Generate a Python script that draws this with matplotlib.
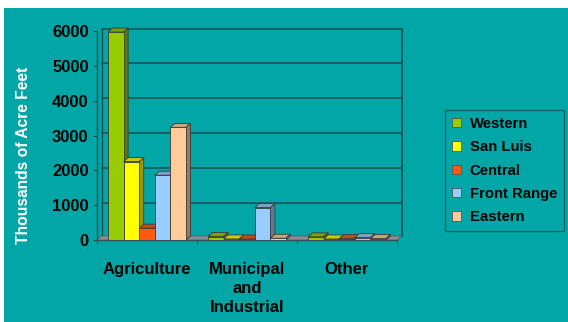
import numpy as np
import matplotlib.pyplot as plt
from matplotlib.patches import Polygon, Rectangle
from matplotlib.colors import to_rgb

plt.rcParams['font.family'] = ['Liberation Sans', 'DejaVu Sans']

categories = ['Agriculture', 'Municipal\nand\nIndustrial', 'Other']
regions = ['Western', 'San Luis', 'Central', 'Front Range', 'Eastern']
western = [5970, 100, 90]
san_luis = [2250, 30, 30]
central = [340, 30, 40]
front_range = [1860, 930, 70]
eastern = [3230, 50, 40]
yticks = [0, 1000, 2000, 3000, 4000, 5000, 6000]

series = [western, san_luis, central, front_range, eastern]
colors = ['#99cc00', '#ffff00', '#ff5a10', '#99ccff', '#ffcc99']
teal = '#03a6a6'
line_col = '#1d4f52'


def shade(c, f):
    r, g, b = to_rgb(c)
    return (r * f, g * f, b * f)


fig = plt.figure(figsize=(5.68, 3.22), dpi=100, facecolor='white')
fig.patches.append(Rectangle((4 / 568, 0), 1, 1 - 8 / 322, transform=fig.transFigure,
                             facecolor=teal, edgecolor='none', zorder=-10))

ax = fig.add_axes([97 / 568, 82 / 322, 300 / 568, 209 / 322])
ax.patch.set_visible(False)
ax.set_xlim(-0.5, 2.5)
ax.set_ylim(0, 6000)
for s in ax.spines.values():
    s.set_visible(False)

dx, dy = 0.045, 115   # 3d depth in data units
x = np.arange(len(categories))
w = 0.156

# back wall + gridlines
for yv in yticks[1:]:
    ax.plot([-0.5 + dx, 2.5 + dx], [yv + dy * 0.6, yv + dy * 0.6], color=line_col, lw=1.1, clip_on=False, zorder=1)
ax.plot([-0.5 + dx, -0.5 + dx], [dy, 6000 + dy * 0.6], color=line_col, lw=1, clip_on=False, zorder=1)
ax.plot([2.5 + dx, 2.5 + dx], [dy, 6000 + dy * 0.6], color=line_col, lw=1.2, clip_on=False, zorder=1)
ax.plot([-0.5, -0.5], [0, 6000], color=line_col, lw=1, clip_on=False, zorder=1)
ax.plot([-0.5, 2.5], [0, 0], color=line_col, lw=1, clip_on=False, zorder=1)

# floor
ax.add_patch(Polygon([(-0.5, 0), (2.5, 0), (2.5 + dx, dy), (-0.5 + dx, dy)], closed=True,
                     facecolor='#8c8c96', edgecolor='#555555', lw=0.5, zorder=2, clip_on=False))

handles = []
for i, (vals, c) in enumerate(zip(series, colors)):
    xs = x + (i - 2) * w
    bars = ax.bar(xs, vals, w, color=c, edgecolor='#3a3a3a', lw=0.6, label=regions[i])
    handles.append(bars)
    for j, r in enumerate(bars):
        z = 3 + j * 10 + i
        r.set_zorder(z + 0.5)
        x0, h = r.get_x(), r.get_height()
        ax.add_patch(Polygon([(x0, h), (x0 + dx, h + dy), (x0 + w + dx, h + dy), (x0 + w, h)],
                             closed=True, facecolor=shade(c, 0.8), edgecolor='#3a3a3a', lw=0.6,
                             zorder=z, clip_on=False))
        ax.add_patch(Polygon([(x0 + w, 0), (x0 + w + dx, dy), (x0 + w + dx, h + dy), (x0 + w, h)],
                             closed=True, facecolor=shade(c, 0.6), edgecolor='#3a3a3a', lw=0.6,
                             zorder=z, clip_on=False))

ax.set_yticks(yticks)
ax.set_yticklabels([str(v) for v in yticks], fontsize=12, fontweight='bold', color='black')
ax.tick_params(axis='y', length=3, color=line_col, pad=3)
ax.set_xticks([-0.5, 0.5, 1.5, 2.5])
ax.set_xticklabels([])
ax.tick_params(axis='x', which='major', length=3, color=line_col, direction='out')
ax.set_xticks(x, categories, minor=True)
ax.tick_params(axis='x', which='minor', length=0, pad=16)
for t in ax.get_xticklabels(minor=True):
    t.set_fontsize(12)
    t.set_fontweight('bold')
    t.set_linespacing(1.32)
    t.set_verticalalignment('top')

fig.text(24 / 568, 1 - 155 / 322, 'Thousands of Acre Feet', rotation=90, color='white',
         fontsize=11.25, fontweight='bold', ha='center', va='center')

leg = ax.legend(handles=handles, loc='upper left', bbox_to_anchor=(445 / 568, 1 - 110 / 322),
                bbox_transform=fig.transFigure, frameon=True, fancybox=False,
                prop={'weight': 'bold', 'size': 10.75}, handlelength=0.6, handleheight=0.6,
                handletextpad=0.6, labelspacing=0.63, borderpad=0.45, borderaxespad=0)
leg.get_frame().set_facecolor(teal)
leg.get_frame().set_edgecolor(line_col)
leg.get_frame().set_linewidth(1)
for h in leg.legend_handles:
    h.set_edgecolor('#555555')

fig.savefig('out.png', dpi=100, facecolor=fig.get_facecolor())
